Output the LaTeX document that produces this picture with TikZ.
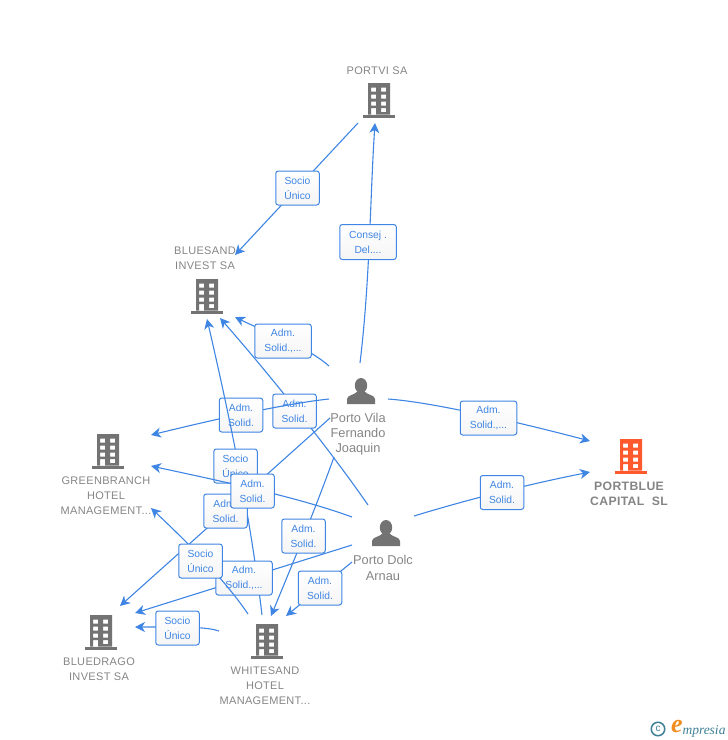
\documentclass[tikz,border=0pt]{standalone}
\usepackage{fontspec}
\setmainfont{Liberation Sans}
\newfontfamily\logofont{Liberation Serif}
\usetikzlibrary{arrows.meta}
\definecolor{linkblue}{HTML}{3F85E3}
\definecolor{namegray}{HTML}{858585}
\definecolor{icongray}{HTML}{737373}
\definecolor{iconred}{HTML}{FF5A2E}
\definecolor{logoteal}{HTML}{3E7F95}
\definecolor{logoorange}{HTML}{F28C1E}
\tikzset{
  link/.style={draw=linkblue,line width=1.1pt},
  lab/.style={draw=linkblue,line width=1pt,rounded corners=2.5pt,top color=white,bottom color=black!4,
    text=linkblue,font=\fontsize{10.3}{15}\selectfont,align=center,inner sep=0pt,minimum height=34pt},
  labs/.style={lab,minimum width=43.5pt},
  labw/.style={lab,minimum width=56.5pt},
  firm/.style={text=namegray,font=\fontsize{11}{15}\selectfont\addfontfeatures{LetterSpace=3},align=center,inner sep=0pt},
  pers/.style={text=namegray,font=\fontsize{12.8}{15.3}\selectfont,align=center,inner sep=0pt},
  pics/building/.style={code={
    \fill[pic actions,even odd rule] (-11,-35) rectangle (11,-3.5)
      (-8,-30.5) rectangle (-3,-26.5) (2,-30.5) rectangle (7,-26.5)
      (-8,-23.5) rectangle (-3,-19.5) (2,-23.5) rectangle (7,-19.5)
      (-8,-16.5) rectangle (-3,-12.5) (2,-16.5) rectangle (7,-12.5)
      (-8,-10) rectangle (-3,-3.5) (2,-10) rectangle (7,-6);
    \fill[pic actions] (-16,-3.5) rectangle (16,0);
  }},
  pics/person/.style={code={
    \fill[pic actions] (0,7.5) ellipse (6.2 and 7.5);
    \fill[pic actions] (-14,26) -- (-14,21) .. controls (-14,17) and (-6,17) .. (-3,13)
      -- (3,13) .. controls (6,17) and (14,17) .. (14,21) -- (14,26) -- cycle;
  }}
}
\begin{document}
\begin{tikzpicture}[x=1pt,y=-1pt,>={Stealth[length=10pt,width=10pt,inset=3pt]}]
\useasboundingbox (0,0) rectangle (728,740);
% icons
\pic (portvi) at (379,118) [fill=icongray] {building};
\pic (bluesand) at (207,314) [fill=icongray] {building};
\pic (greenbranch) at (108,469) [fill=icongray] {building};
\pic (bluedrago) at (101,650) [fill=icongray] {building};
\pic (whitesand) at (267,659) [fill=icongray] {building};
\pic (portblue) at (631,474) [fill=iconred] {building};
\pic (vila) at (361,378) [fill=icongray] {person};
\pic (dolc) at (386,520) [fill=icongray] {person};
% names
\node (nportvi) at (377,70.5) [firm] {PORTVI SA};
\node (nbluesand) at (205,258) [firm] {BLUESAND\\INVEST SA};
\node (ngreenbranch) at (106,496) [firm] {GREENBRANCH\\HOTEL\\MANAGEMENT...};
\node (nbluedrago) at (99,669) [firm] {BLUEDRAGO\\INVEST SA};
\node (nwhitesand) at (265,686) [firm] {WHITESAND\\HOTEL\\MANAGEMENT...};
\node (nportblue) at (629,494) [firm,font=\fontsize{12.2}{15}\selectfont\bfseries\addfontfeatures{LetterSpace=3}] {PORTBLUE\\CAPITAL\ \ SL};
\node (nvila) at (358,434) [pers] {Porto Vila\\Fernando\\Joaquin};
\node (ndolc) at (383,568) [pers] {Porto Dolc\\Arnau};
% ends of the connectors
\coordinate (pA) at (358,123);
\coordinate (pB) at (375,123);
\coordinate (bA) at (235,255);
\coordinate (bB) at (235,317);
\coordinate (bC) at (220,318);
\coordinate (bD) at (207,319);
\coordinate (vA) at (360,363);
\coordinate (vB) at (329,366);
\coordinate (vC) at (329,399);
\coordinate (vD) at (388,399);
\coordinate (vE) at (330,418);
\coordinate (vF) at (334,457);
\coordinate (dA) at (368,505);
\coordinate (dB) at (352,517);
\coordinate (dC) at (414,516);
\coordinate (dD) at (352,545);
\coordinate (dE) at (352,562);
\coordinate (gA) at (151,435);
\coordinate (gB) at (151,466);
\coordinate (gC) at (151,508);
\coordinate (rA) at (120,606);
\coordinate (rB) at (135,613);
\coordinate (rC) at (135,627);
\coordinate (wA) at (262,615);
\coordinate (wB) at (248,614);
\coordinate (wC) at (219,631);
\coordinate (wD) at (271,616);
\coordinate (wE) at (286,616);
\coordinate (tA) at (590,441);
\coordinate (tB) at (590,472);
% connectors and their labels
\draw[link,->] (pA) -- (bA);
\node (su1) at (297.5,188) [labs] {Socio\\Único};
\draw[link,->] (vA) .. controls (370,280) and (370,200) .. (pB);
\node (co1) at (368,242) [labw,minimum height=35pt] {Consej .\\Del....};
\draw[link,->] (vB) .. controls (305,345) and (265,332) .. (bB);
\node (ad1) at (283,341) [labw] {Adm.\\Solid.,...};
\draw[link,->] (dA) .. controls (330,450) and (270,375) .. (bC);
\node (ad2) at (294.5,411) [labs] {Adm.\\Solid.};
\draw[link,->] (vC) .. controls (290,403) and (220,418) .. (gA);
\node (ad3) at (241,415) [labs] {Adm.\\Solid.};
\draw[link,->] (wA) .. controls (252,530) and (235,440) .. (bD);
\node (su2) at (235.5,466) [labs] {Socio\\Único};
\draw[link,->] (vE) -- (rA);
\node (ad4) at (225.5,511) [labs] {Adm.\\Solid.};
\draw[link,->] (dB) .. controls (300,498) and (230,483) .. (gB);
\node (ad5) at (252.5,491) [labs] {Adm.\\Solid.};
\draw[link,->] (vF) .. controls (315,510) and (290,570) .. (wD);
\node (ad6) at (303.5,536) [labs] {Adm.\\Solid.};
\draw[link,->] (dD) -- (rB);
\node (ad7) at (244,578) [labw] {Adm.\\Solid.,...};
\draw[link,->] (wB) .. controls (225,580) and (190,545) .. (gC);
\node (su3) at (200.5,561) [labs] {Socio\\Único};
\draw[link,->] (dE) -- (wE);
\node (ad8) at (320,588) [labs] {Adm.\\Solid.};
\draw[link,->] (wC) .. controls (205,626) and (170,627) .. (rC);
\node (su4) at (177.5,628) [labs] {Socio\\Único};
\draw[link,->] (vD) .. controls (430,402) and (510,420) .. (tA);
\node (ad9) at (488.5,418) [labw] {Adm.\\Solid.,...};
\draw[link,->] (dC) .. controls (450,505) and (510,488) .. (tB);
\node (ad10) at (502,492.5) [labs] {Adm.\\Solid.};
% logo
\node (logoc) at (658,729) [circle,draw=logoteal,line width=1.5pt,minimum size=13.5pt,inner sep=0pt,text=logoteal,font=\fontsize{10}{10}\selectfont] {c};
\node (logoe) at (677,726.5) [text=logoorange,inner sep=0pt,font=\logofont\itshape\bfseries\fontsize{26}{26}\selectfont] {e};
\node (logot) at (704,731) [text=logoteal,inner sep=0pt,font=\logofont\itshape\fontsize{13.5}{13.5}\selectfont] {mpresia};
\end{tikzpicture}
\end{document}
